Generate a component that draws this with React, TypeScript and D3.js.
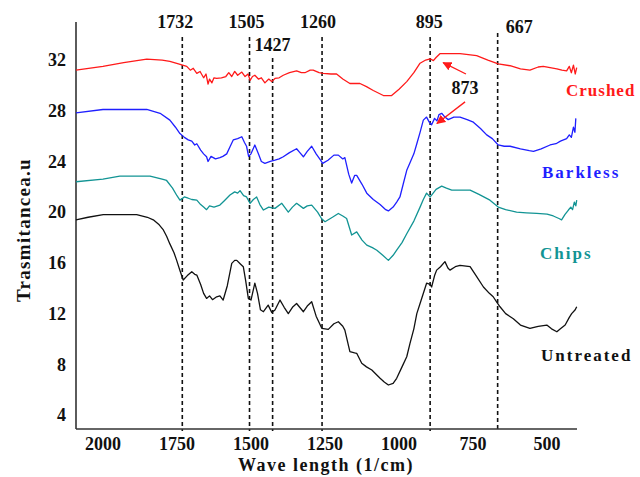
import React, { useRef, useEffect } from "react";
import * as d3 from "d3";

type Pt = [number, number];

// [wavenumber (1/cm), transmittance]
const crushed: Pt[] = [
  [2091, 31.2], [2000, 31.5], [1930, 31.8], [1852, 32.07], [1800, 32.0], [1774, 31.9], [1745, 31.7],
  [1717, 31.5], [1705, 31.2], [1695, 31.35], [1683, 30.95], [1672, 31.1], [1660, 30.6], [1652, 30.9],
  [1645, 30.1], [1640, 30.5], [1632, 30.2], [1625, 30.6], [1616, 30.55], [1600, 30.6], [1585, 30.7],
  [1575, 31.0], [1565, 30.7], [1555, 31.1], [1545, 30.8], [1531, 31.05], [1520, 30.7], [1510, 30.9],
  [1503, 30.4], [1495, 30.7], [1487, 30.8], [1475, 30.5], [1465, 30.6], [1453, 30.2], [1440, 30.5],
  [1430, 30.3], [1419, 30.55], [1405, 30.6], [1391, 30.8], [1370, 31.0], [1346, 31.15], [1330, 31.0],
  [1318, 31.0], [1300, 31.2], [1290, 31.2], [1270, 31.0], [1256, 30.95], [1230, 30.9], [1211, 30.9],
  [1190, 30.5], [1166, 30.15], [1132, 30.15], [1110, 29.9], [1087, 29.6], [1053, 29.2], [1025, 29.2],
  [1000, 29.7], [974, 30.3], [950, 31.0], [929, 31.75], [910, 32.0], [895, 32.1], [884, 31.95],
  [875, 32.2], [862, 32.5], [830, 32.5], [794, 32.5], [738, 32.35], [700, 32.0], [665, 31.7],
  [625, 31.55], [590, 31.3], [558, 31.2], [530, 31.45], [513, 31.5], [490, 31.4], [467, 31.3],
  [450, 31.2], [434, 31.15], [425, 31.5], [418, 31.0], [411, 31.6], [405, 30.9], [400, 31.4],
];

const barkless: Pt[] = [
  [2091, 27.84], [2000, 28.1], [1852, 28.1], [1807, 27.8], [1774, 27.26], [1755, 26.7], [1740, 26.2],
  [1725, 25.9], [1712, 25.7], [1700, 25.6], [1690, 25.3], [1683, 25.4], [1670, 24.9], [1660, 24.6],
  [1650, 24.37], [1645, 24.0], [1635, 24.4], [1620, 24.2], [1605, 24.3], [1595, 24.4], [1582, 24.6],
  [1570, 25.2], [1560, 25.7], [1545, 25.8], [1531, 25.95], [1522, 25.5], [1515, 25.2], [1508, 24.4],
  [1500, 24.6], [1487, 25.3], [1475, 24.6], [1465, 24.0], [1453, 23.85], [1435, 24.0], [1419, 24.1],
  [1405, 24.2], [1391, 24.37], [1370, 24.7], [1346, 25.0], [1335, 24.7], [1323, 24.37], [1310, 24.8],
  [1295, 25.2], [1280, 24.6], [1265, 24.1], [1258, 23.85], [1240, 24.1], [1220, 24.5], [1205, 24.5],
  [1190, 24.2], [1183, 24.3], [1170, 23.0], [1160, 22.3], [1150, 22.9], [1143, 22.9], [1125, 22.2],
  [1109, 21.5], [1087, 21.0], [1064, 20.6], [1045, 20.2], [1036, 20.1], [1020, 20.4], [1008, 20.8],
  [997, 21.2], [985, 22.3], [974, 23.3], [963, 23.9], [950, 24.6], [940, 25.4], [929, 26.3],
  [918, 27.26], [907, 27.5], [898, 27.1], [890, 26.9], [880, 27.4], [872, 27.2], [865, 27.7],
  [856, 27.8], [845, 27.5], [834, 27.3], [815, 27.5], [794, 27.5], [770, 27.3], [749, 27.1],
  [725, 26.6], [704, 26.1], [685, 25.8], [665, 25.3], [645, 25.2], [625, 25.2], [590, 25.0],
  [560, 24.85], [546, 24.8], [520, 25.0], [490, 25.3], [470, 25.4], [455, 25.6], [434, 25.8],
  [425, 26.1], [418, 25.9], [411, 26.7], [406, 26.3], [403, 27.4],
];

const chips: Pt[] = [
  [2091, 22.4], [2000, 22.6], [1943, 22.85], [1841, 22.85], [1800, 22.6], [1785, 22.5], [1765, 21.9],
  [1750, 21.3], [1740, 20.95], [1725, 21.2], [1712, 21.1], [1700, 21.0], [1683, 20.95], [1670, 20.6],
  [1660, 20.4], [1650, 20.2], [1640, 20.5], [1625, 20.4], [1605, 20.56], [1590, 20.9], [1571, 21.35],
  [1555, 21.6], [1545, 21.5], [1537, 21.7], [1525, 21.3], [1515, 21.2], [1503, 20.7], [1492, 21.0],
  [1481, 21.2], [1470, 20.6], [1458, 20.17], [1440, 20.4], [1419, 20.3], [1396, 20.7], [1374, 20.0],
  [1360, 20.4], [1346, 20.7], [1323, 20.3], [1310, 20.5], [1295, 20.56], [1275, 20.0], [1262, 19.5],
  [1250, 19.25], [1225, 19.6], [1205, 19.9], [1190, 19.7], [1177, 19.5], [1160, 18.2], [1143, 18.45],
  [1125, 17.8], [1109, 17.4], [1090, 17.2], [1075, 17.0], [1055, 16.6], [1036, 16.2], [1020, 16.6],
  [1008, 17.0], [990, 17.6], [974, 18.3], [950, 19.3], [929, 20.4], [918, 21.0], [907, 21.5],
  [895, 21.2], [890, 21.35], [875, 21.8], [856, 22.06], [840, 21.9], [822, 21.74], [790, 21.74],
  [760, 21.74], [730, 21.4], [693, 20.95], [665, 20.4], [640, 20.2], [603, 20.0], [570, 19.95],
  [535, 19.9], [500, 19.85], [479, 19.7], [460, 19.5], [451, 19.4], [440, 19.8], [428, 20.17],
  [420, 20.4], [414, 20.2], [408, 20.8], [403, 20.5], [400, 20.95],
];

const untreated: Pt[] = [
  [2091, 19.4], [2050, 19.6], [1999, 19.8], [1886, 19.8], [1850, 19.6], [1830, 19.4], [1810, 19.0],
  [1796, 18.6], [1785, 18.1], [1774, 17.5], [1760, 16.8], [1751, 16.2], [1740, 15.4], [1729, 14.65],
  [1715, 15.0], [1700, 15.3], [1690, 15.1], [1683, 15.04], [1670, 14.3], [1660, 13.6], [1650, 13.2],
  [1640, 13.4], [1630, 13.1], [1616, 13.33], [1605, 13.4], [1594, 13.07], [1580, 14.2], [1565, 15.96],
  [1555, 16.2], [1548, 16.2], [1535, 15.9], [1526, 15.7], [1518, 14.6], [1509, 13.2], [1500, 13.07],
  [1487, 14.4], [1478, 13.6], [1468, 12.3], [1458, 12.15], [1442, 12.67], [1430, 12.1], [1419, 12.28],
  [1402, 13.07], [1388, 12.5], [1374, 12.0], [1360, 12.5], [1346, 12.8], [1323, 12.15], [1310, 12.6],
  [1295, 12.94], [1280, 11.8], [1261, 10.84], [1239, 10.76], [1220, 11.2], [1205, 11.36], [1190, 11.0],
  [1183, 10.7], [1170, 9.4], [1166, 9.0], [1150, 8.9], [1143, 8.87], [1126, 8.08], [1110, 7.8],
  [1092, 7.55], [1064, 6.9], [1050, 6.6], [1036, 6.37], [1020, 6.5], [1008, 6.9], [990, 7.8],
  [974, 8.6], [963, 9.65], [950, 10.8], [940, 12.0], [929, 12.8], [907, 14.4], [895, 14.3],
  [890, 14.1], [880, 15.0], [873, 15.43], [860, 15.7], [845, 16.1], [835, 15.6], [828, 15.43],
  [810, 15.7], [794, 15.8], [760, 15.7], [740, 15.0], [715, 14.1], [695, 13.6], [682, 13.33],
  [670, 12.9], [659, 12.54], [640, 12.0], [614, 11.6], [590, 11.1], [558, 10.84], [530, 11.0],
  [501, 11.1], [485, 10.8], [467, 10.57], [455, 10.8], [439, 11.1], [425, 11.7], [417, 12.0],
  [405, 12.3], [400, 12.54],
];

const xTicks = [2000, 1750, 1500, 1250, 1000, 750, 500];
const yTicks = [4, 8, 12, 16, 20, 24, 28, 32];
const peaks = [1732, 1505, 1427, 1260, 895, 667];

const seriesNames = ["Crushed", "Barkless", "Chips", "Untreated"];
const seriesColors = ["#ff1a1a", "#1f1fff", "#129494", "#111111"];
const seriesData = [crushed, barkless, chips, untreated];

const FONT = "'Liberation Serif', 'Times New Roman', serif";

const App = () => {
  const ref = useRef<HTMLDivElement>(null);

  useEffect(() => {
    const width = 640;
    const height = 477;
    const left = 76, right = 577, top = 22, bottom = 429;

    const x = d3.scaleLinear().domain([2091, 399]).range([left, right]);
    const y = d3.scaleLinear().domain([2.9, 35]).range([bottom, top]);

    const svg = d3.create("svg")
      .attr("width", width)
      .attr("height", height)
      .attr("viewBox", [0, 0, width, height])
      .style("position", "absolute")
      .style("left", "0px")
      .style("top", "0px")
      .style("background", "#fff")
      .style("font-family", FONT)
      .style("font-weight", "bold");

    // dashed marker lines
    const dashTop: Record<number, number> = { 1732: 37, 1505: 37, 1427: 58, 1260: 37, 895: 37, 667: 33 };
    svg.append("g")
      .selectAll("line")
      .data(peaks)
      .join("line")
      .attr("x1", d => x(d))
      .attr("x2", d => x(d))
      .attr("y1", d => dashTop[d])
      .attr("y2", bottom + 2)
      .attr("stroke", "#111")
      .attr("stroke-width", 1.6)
      .attr("stroke-dasharray", "4,3");

    // peak labels
    const peakLabel: Record<number, [number, number, string]> = {
      1732: [-7, 22, "middle"], 1505: [-3, 22, "middle"], 1427: [0, 45, "middle"],
      1260: [-4, 22, "middle"], 895: [-1, 22, "middle"], 667: [8, 27, "start"],
    };
    svg.append("g")
      .selectAll("text")
      .data(peaks)
      .join("text")
      .attr("x", d => x(d) + peakLabel[d][0])
      .attr("y", d => peakLabel[d][1])
      .attr("dy", "0.35em")
      .attr("text-anchor", d => peakLabel[d][2])
      .attr("font-size", 18)
      .attr("fill", "#111")
      .text(d => String(d));

    // axes (no tick marks, labels only)
    svg.append("line")
      .attr("x1", left).attr("x2", left).attr("y1", top).attr("y2", bottom)
      .attr("stroke", "#333").attr("stroke-width", 1.6);
    svg.append("line")
      .attr("x1", left).attr("x2", right).attr("y1", bottom).attr("y2", bottom)
      .attr("stroke", "#333").attr("stroke-width", 1.6);

    svg.append("g")
      .selectAll("text")
      .data(xTicks)
      .join("text")
      .attr("x", d => x(d))
      .attr("y", 444)
      .attr("dy", "0.35em")
      .attr("text-anchor", "middle")
      .attr("font-size", 18)
      .attr("fill", "#111")
      .text(d => String(d));

    svg.append("g")
      .selectAll("text")
      .data(yTicks)
      .join("text")
      .attr("x", 66)
      .attr("y", d => y(d))
      .attr("dy", "0.35em")
      .attr("text-anchor", "end")
      .attr("font-size", 18)
      .attr("fill", "#111")
      .text(d => String(d));

    svg.append("text")
      .attr("transform", "translate(23,230) rotate(-90)")
      .attr("dy", "0.35em")
      .attr("text-anchor", "middle")
      .attr("font-size", 19)
      .attr("letter-spacing", 1.3)
      .attr("fill", "#111")
      .text("Trasmitancea.u");

    svg.append("text")
      .attr("x", 326)
      .attr("y", 465)
      .attr("dy", "0.35em")
      .attr("text-anchor", "middle")
      .attr("font-size", 18)
      .attr("letter-spacing", 1.5)
      .attr("fill", "#111")
      .text("Wave length (1/cm)");

    // spectra
    const line = d3.line<Pt>()
      .x(d => x(d[0]))
      .y(d => y(d[1]));

    seriesData.forEach((data, i) => {
      svg.append("path")
        .datum(data)
        .attr("fill", "none")
        .attr("stroke", seriesColors[i])
        .attr("stroke-width", 1.3)
        .attr("stroke-linejoin", "round")
        .attr("d", line);
    });

    // series labels
    const labelPos: [number, number, number][] = [[566, 90, 1], [542, 172, 2], [540, 253, 2], [541, 355, 2]];
    seriesNames.forEach((name, i) => {
      svg.append("text")
        .attr("x", labelPos[i][0])
        .attr("y", labelPos[i][1])
        .attr("dy", "0.35em")
        .attr("font-size", 17)
        .attr("letter-spacing", labelPos[i][2])
        .attr("fill", seriesColors[i])
        .text(name);
    });

    // 873 annotation with two arrows
    svg.append("defs").append("marker")
      .attr("id", "arrowhead")
      .attr("viewBox", "0 0 10 10")
      .attr("refX", 9).attr("refY", 5)
      .attr("markerWidth", 7).attr("markerHeight", 7)
      .attr("orient", "auto")
      .append("path")
      .attr("d", "M0,0L10,5L0,10z")
      .attr("fill", "#ff1a1a");

    const arrows: [Pt, Pt][] = [
      [[774, 30.9], [851, 31.8]],
      [[777, 28.7], [872, 27.0]],
    ];
    svg.append("g")
      .selectAll("line")
      .data(arrows)
      .join("line")
      .attr("x1", d => x(d[0][0]))
      .attr("y1", d => y(d[0][1]))
      .attr("x2", d => x(d[1][0]))
      .attr("y2", d => y(d[1][1]))
      .attr("stroke", "#ff1a1a")
      .attr("stroke-width", 1.3)
      .attr("marker-end", "url(#arrowhead)");

    svg.append("text")
      .attr("x", x(777))
      .attr("y", y(29.8))
      .attr("dy", "0.35em")
      .attr("text-anchor", "middle")
      .attr("font-size", 18)
      .attr("fill", "#111")
      .text("873");

    if (ref.current) {
      ref.current.innerHTML = "";
      ref.current.appendChild(svg.node() as SVGSVGElement);
    }
  }, []);

  return <div ref={ref} />;
};

export default App;
